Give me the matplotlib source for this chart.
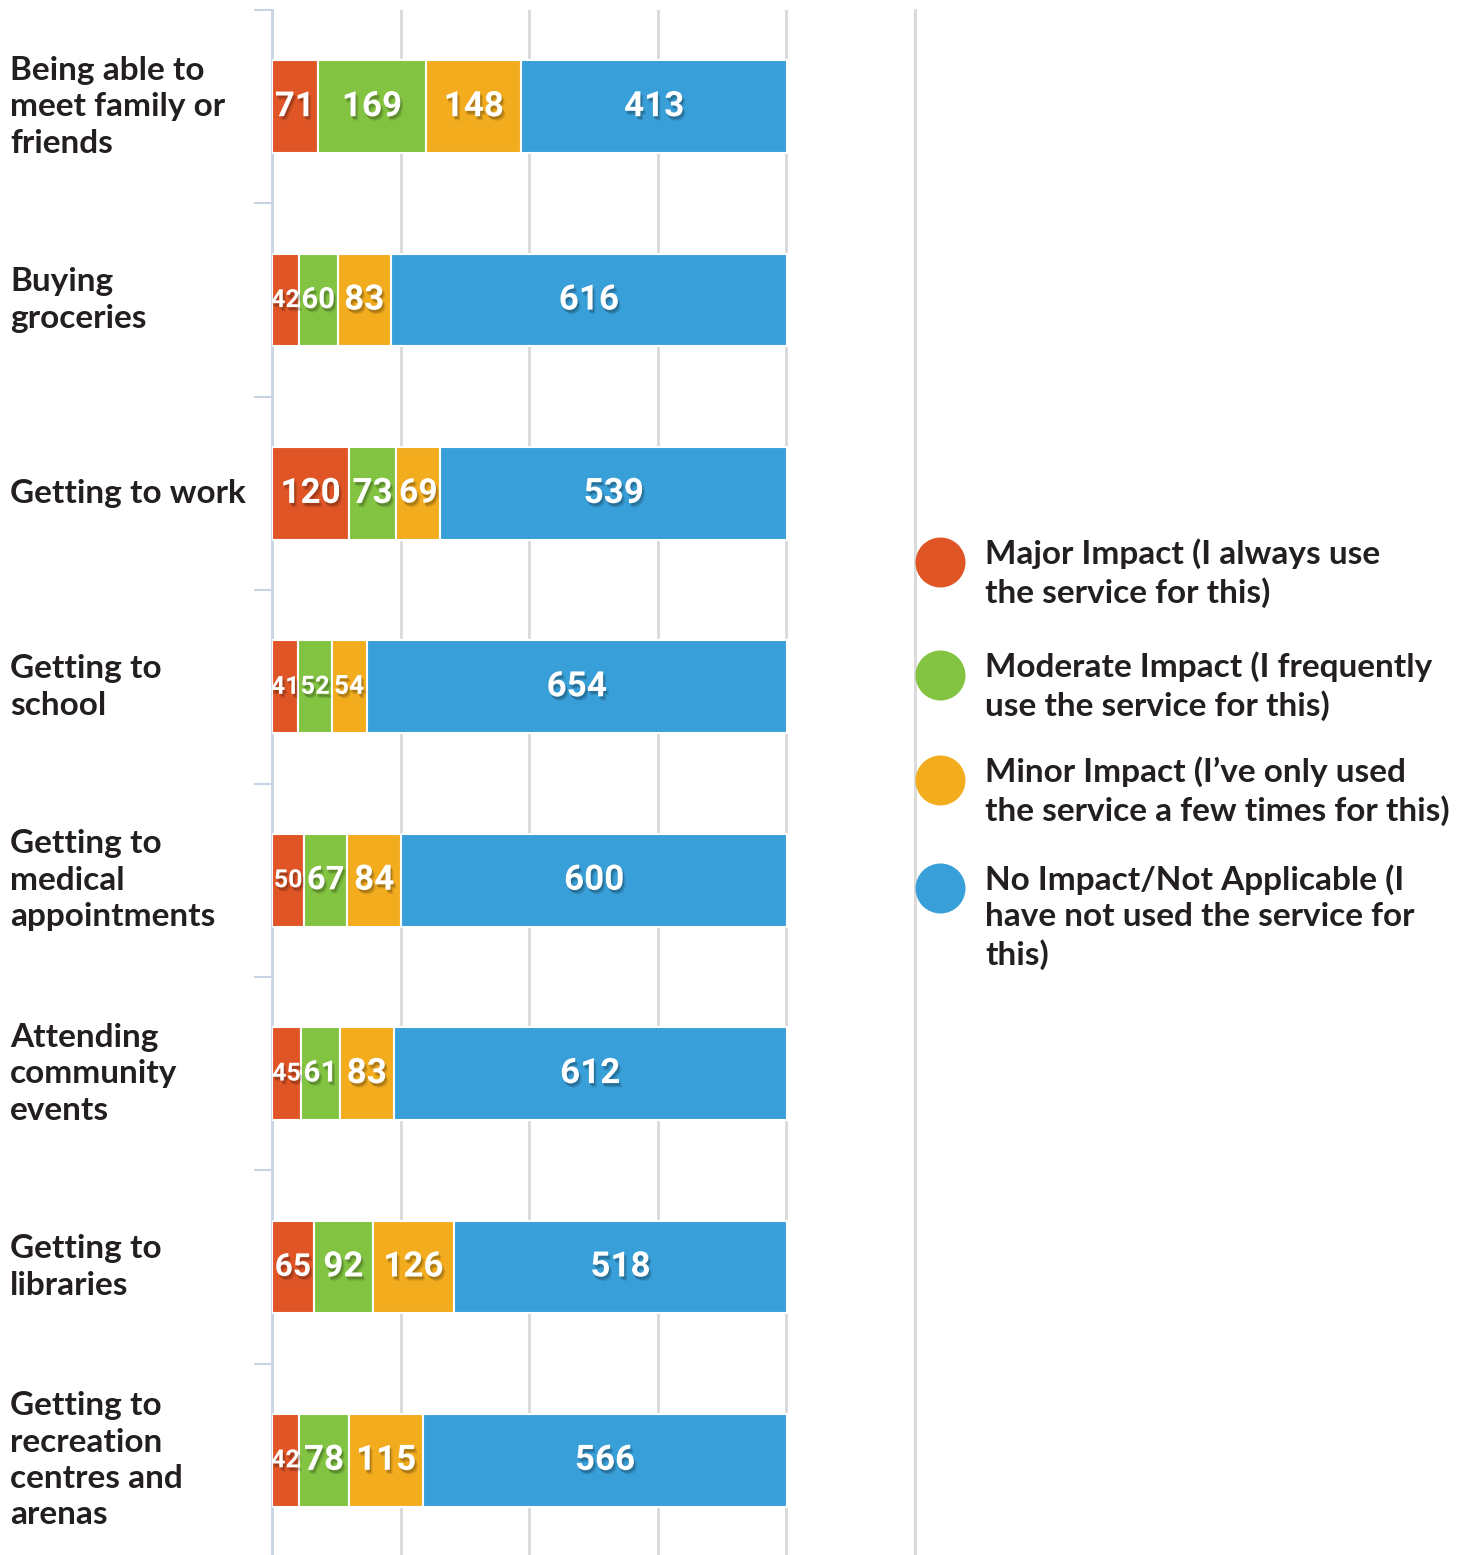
import numpy as np
import matplotlib
matplotlib.use("Agg")
import matplotlib.pyplot as plt
import matplotlib.patheffects as pe
from matplotlib.lines import Line2D

# data
categories = [
    "Being able to\nmeet family or\nfriends",
    "Buying\ngroceries",
    "Getting to work",
    "Getting to\nschool",
    "Getting to\nmedical\nappointments",
    "Attending\ncommunity\nevents",
    "Getting to\nlibraries",
    "Getting to\nrecreation\ncentres and\narenas",
]
major = [71, 42, 120, 41, 50, 45, 65, 42]
moderate = [169, 60, 73, 52, 67, 61, 92, 78]
minor = [148, 83, 69, 54, 84, 83, 126, 115]
no_impact = [413, 616, 539, 654, 600, 612, 518, 566]

series_names = [
    "Major Impact (I always use\nthe service for this)",
    "Moderate Impact (I frequently\nuse the service for this)",
    "Minor Impact (I\u2019ve only used\nthe service a few times for this)",
    "No Impact/Not Applicable (I\nhave not used the service for\nthis)",
]
series_colors = ["#E05526", "#82C341", "#F2AC1E", "#389FD8"]
xticks = [0, 200, 400, 600, 800, 1000]

TEXT = "#231F20"
FONT = "Lato"
FS = 24
LS = 1.31

W, H = 1476, 1555
fig = plt.figure(figsize=(W / 100, H / 100), dpi=100)
ax = fig.add_axes([272 / W, -2 / H, 643 / W, 1 - 8 / H])

series = [major, moderate, minor, no_impact]
ypos = np.arange(len(categories)) + 0.5
left = np.zeros(len(categories))
px_per_unit = 643 / 1000.0

# soft-ish drop shadow for the value labels
shadow = [pe.SimplePatchShadow(offset=(2, -3), shadow_rgbFace="k", alpha=0.12),
          pe.SimplePatchShadow(offset=(1, -2), shadow_rgbFace="k", alpha=0.18),
          pe.Normal()]

for vals, col in zip(series, series_colors):
    vals = np.array(vals, dtype=float)
    bars = ax.barh(ypos, vals, left=left, height=0.48, color=col,
                   edgecolor="white", linewidth=1.5, zorder=3)
    for b, v in zip(bars, vals):
        # shrink the label to fit narrow segments
        seg_px = v * px_per_unit
        nd = len(str(int(v)))
        em_px = np.clip(seg_px * 0.85 / (nd * 0.56), 25, 35)
        ax.text(b.get_x() + b.get_width() / 2, b.get_y() + b.get_height() / 2,
                str(int(v)), ha="center", va="center", color="white",
                fontsize=em_px / 1.389, fontweight="bold", family="Roboto",
                zorder=5, path_effects=shadow)
    left += vals

ax.set_xlim(0, 1000)
ax.set_ylim(len(categories), 0)
ax.set_xticks(xticks)
ax.xaxis.set_ticklabels([])
ax.tick_params(axis="x", length=0)
ax.grid(axis="x", color="#D9D9D9", linewidth=2)
ax.set_axisbelow(True)

# left axis with boundary ticks
ax.set_yticks(np.arange(len(categories) + 1))
ax.yaxis.set_ticklabels([])
ax.tick_params(axis="y", length=13, width=1.5, color="#C8D4E3", direction="out")
for s in ["top", "bottom"]:
    ax.spines[s].set_visible(False)
ax.spines["left"].set_color("#C8D4E3")
ax.spines["left"].set_linewidth(2)
ax.spines["right"].set_color("#D9D9D9")
ax.spines["right"].set_linewidth(2)

# category labels
for y, lab in zip(ypos, categories):
    yfig = ax.transData.transform((0, y))[1]
    fig.text(10 / W, yfig / H, lab, ha="left", va="center", color=TEXT,
             fontsize=FS, fontweight="bold", family=FONT, linespacing=LS)

# legend
leg_y = [562, 675, 780, 888]
for yy, name, col in zip(leg_y, series_names, series_colors):
    fig.add_artist(Line2D([940 / W], [1 - yy / H], marker="o", markersize=36,
                          color=col, markeredgewidth=0, transform=fig.transFigure))
    fig.text(985 / W, 1 - (yy - 24) / H, name, ha="left", va="top", color=TEXT,
             fontsize=FS, fontweight="bold", family=FONT, linespacing=LS)

fig.savefig("out.png", dpi=100)
